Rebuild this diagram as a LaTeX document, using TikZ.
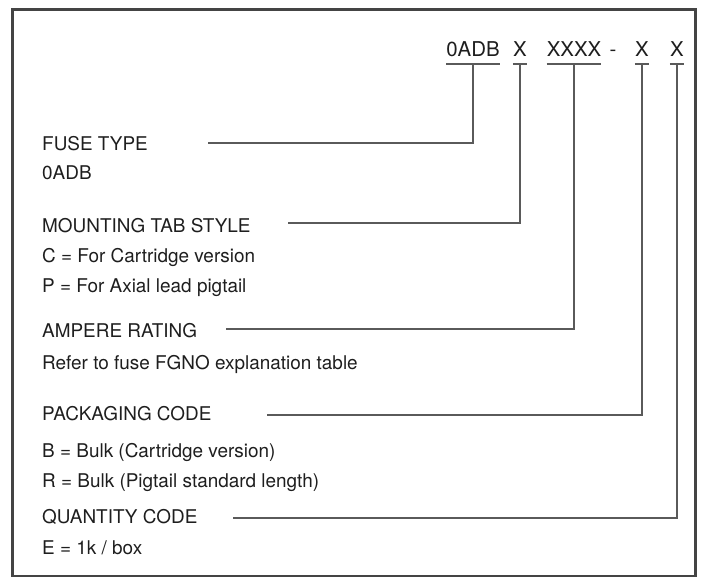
\documentclass[tikz,border=0pt]{standalone}
\usepackage{fontspec}
\setmainfont{TeX Gyre Heros}
\definecolor{linegray}{HTML}{5A5A5A}
\definecolor{framegray}{HTML}{444444}
\definecolor{textgray}{HTML}{1E1E1E}
\begin{document}
\begin{tikzpicture}[x=1bp,y=-1bp,
	desc/.style={anchor=base west, inner sep=0pt, font=\fontsize{19}{22}\selectfont, text=textgray},
	codebox/.style={anchor=base, inner xsep=0pt, inner ysep=7bp, text depth=0pt, font=\fontsize{20.5}{24}\selectfont, text=textgray},
	leader/.style={draw=linegray, line width=1.6bp}]
	\useasboundingbox (0,0) rectangle (702,577);
	\draw[framegray, line width=3bp] (12.5,9.5) rectangle (695.5,576.5);

	% part number
	\node[codebox] (ctype) at (473,57) {0ADB};
	\node[codebox] (ctab) at (520,57) {X};
	\node[codebox] (camp) at (574,57) {XXXX};
	\node[codebox] (cdash) at (613,57) {-};
	\node[codebox] (cpack) at (642,57) {X};
	\node[codebox] (cqty) at (677,57) {X};
	\foreach \c in {ctype,ctab,camp,cpack,cqty}
		\draw[leader] (\c.south west) -- (\c.south east);

	% descriptions
	\node[desc] (ftype) at (42,151) {FUSE TYPE};
	\node[desc] (ftypev) at (42,180) {0ADB};
	\node[desc] (mtab) at (42,232) {MOUNTING TAB STYLE};
	\node[desc] (mtabc) at (42,262) {C = For Cartridge version};
	\node[desc] (mtabp) at (42,292) {P = For Axial lead pigtail};
	\node[desc] (amp) at (42,337) {AMPERE RATING};
	\node[desc] (ampr) at (42,369) {Refer to fuse FGNO explanation table};
	\node[desc] (pack) at (42,420) {PACKAGING CODE};
	\node[desc] (packb) at (42,457) {B = Bulk (Cartridge version)};
	\node[desc] (packr) at (42,487) {R = Bulk (Pigtail standard length)};
	\node[desc] (qty) at (42,523) {QUANTITY CODE};
	\node[desc] (qtye) at (42,554) {E = 1k / box};

	% leaders
	\coordinate (ltype) at (208,143);
	\coordinate (ltab) at (288,223);
	\coordinate (lamp) at (226,329);
	\coordinate (lpack) at (267,415);
	\coordinate (lqty) at (233,518);
	\draw[leader] (ltype) -| (ctype.south);
	\draw[leader] (ltab) -| (ctab.south);
	\draw[leader] (lamp) -| (camp.south);
	\draw[leader] (lpack) -| (cpack.south);
	\draw[leader] (lqty) -| (cqty.south);
\end{tikzpicture}
\end{document}
